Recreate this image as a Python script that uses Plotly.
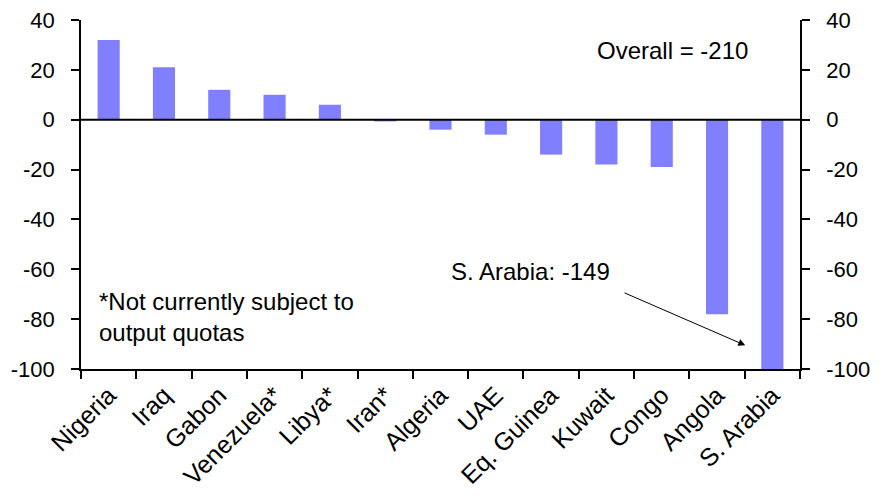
import plotly.graph_objects as go

countries = ["Nigeria", "Iraq", "Gabon", "Venezuela*", "Libya*", "Iran*", "Algeria",
             "UAE", "Eq. Guinea", "Kuwait", "Congo", "Angola", "S. Arabia"]
values = [32, 21, 12, 10, 6, -0.7, -4, -6, -14, -18, -19, -78, -149]
y_ticks = [40, 20, 0, -20, -40, -60, -80, -100]
y_tick_text = ["40", "20", "0", "-20", "-40", "-60", "-80", "-100"]

FONT = "Liberation Sans, Arial, sans-serif"
FS_TICK = 22
FS_X = 25
FS_ANN = 24
BAR = "#8080FF"

fig = go.Figure()
fig.add_trace(go.Bar(x=countries, y=values, marker_color=BAR, width=0.4,
                     marker_line_width=0, showlegend=False))
fig.add_trace(go.Bar(x=countries, y=[None]*len(countries), yaxis="y2",
                     showlegend=False, hoverinfo="skip", width=0.4))

axis_common = dict(range=[-100, 40], tickvals=y_ticks, ticktext=y_tick_text,
                   ticks="outside", ticklen=8,
                   tickwidth=1.5, tickcolor="black", showline=True, linecolor="black",
                   linewidth=1.5, showgrid=False, zeroline=False, automargin=False,
                   ticklabeloverflow="allow",
                   tickfont=dict(family=FONT, size=FS_TICK, color="black"))

fig.update_layout(
    width=877, height=490,
    margin=dict(l=73, r=85, t=12, b=129, autoexpand=False),
    paper_bgcolor="white", plot_bgcolor="white",
    font=dict(family=FONT, size=FS_ANN, color="black"),
    barmode="overlay",
    xaxis=dict(range=[-0.5, len(countries) - 0.5], autorange=False,
               tickson="boundaries", ticks="outside", ticklen=8, tickwidth=1.5,
               tickcolor="black", showline=True, linecolor="black", linewidth=1.5,
               tickangle=-45, tickfont=dict(family=FONT, size=FS_X, color="black"),
               showgrid=False, automargin=False, ticklabeloverflow="allow"),
    yaxis=dict(**axis_common, side="left", ticklabelstandoff=12),
    yaxis2=dict(**axis_common, side="right", overlaying="y", anchor="x", ticklabelstandoff=12),
    shapes=[dict(type="line", xref="paper", x0=0, x1=1, yref="y", y0=0, y1=0,
                 line=dict(color="black", width=2))],
    annotations=[
        dict(text="Overall = -210", x=0.823, y=0.914, xref="paper", yref="paper",
             showarrow=False, xanchor="center", yanchor="middle",
             font=dict(family=FONT, size=FS_ANN)),
        dict(text="*Not currently subject to<br>output quotas", x=0.022, y=0.149,
             xref="paper", yref="paper", showarrow=False, xanchor="left", yanchor="middle",
             align="left", font=dict(family=FONT, size=FS_ANN)),
        dict(text="S. Arabia: -149", x=0.625, y=0.278, xref="paper", yref="paper",
             showarrow=False, xanchor="center", yanchor="middle",
             font=dict(family=FONT, size=FS_ANN)),
        dict(text="", x=11.51, y=-90.5, xref="x", yref="y", ax=9.30, ay=-69.2,
             axref="x", ayref="y", showarrow=True, arrowhead=2, arrowsize=1.4,
             arrowwidth=1, arrowcolor="black"),
    ],
)

fig.write_html("out.html")
